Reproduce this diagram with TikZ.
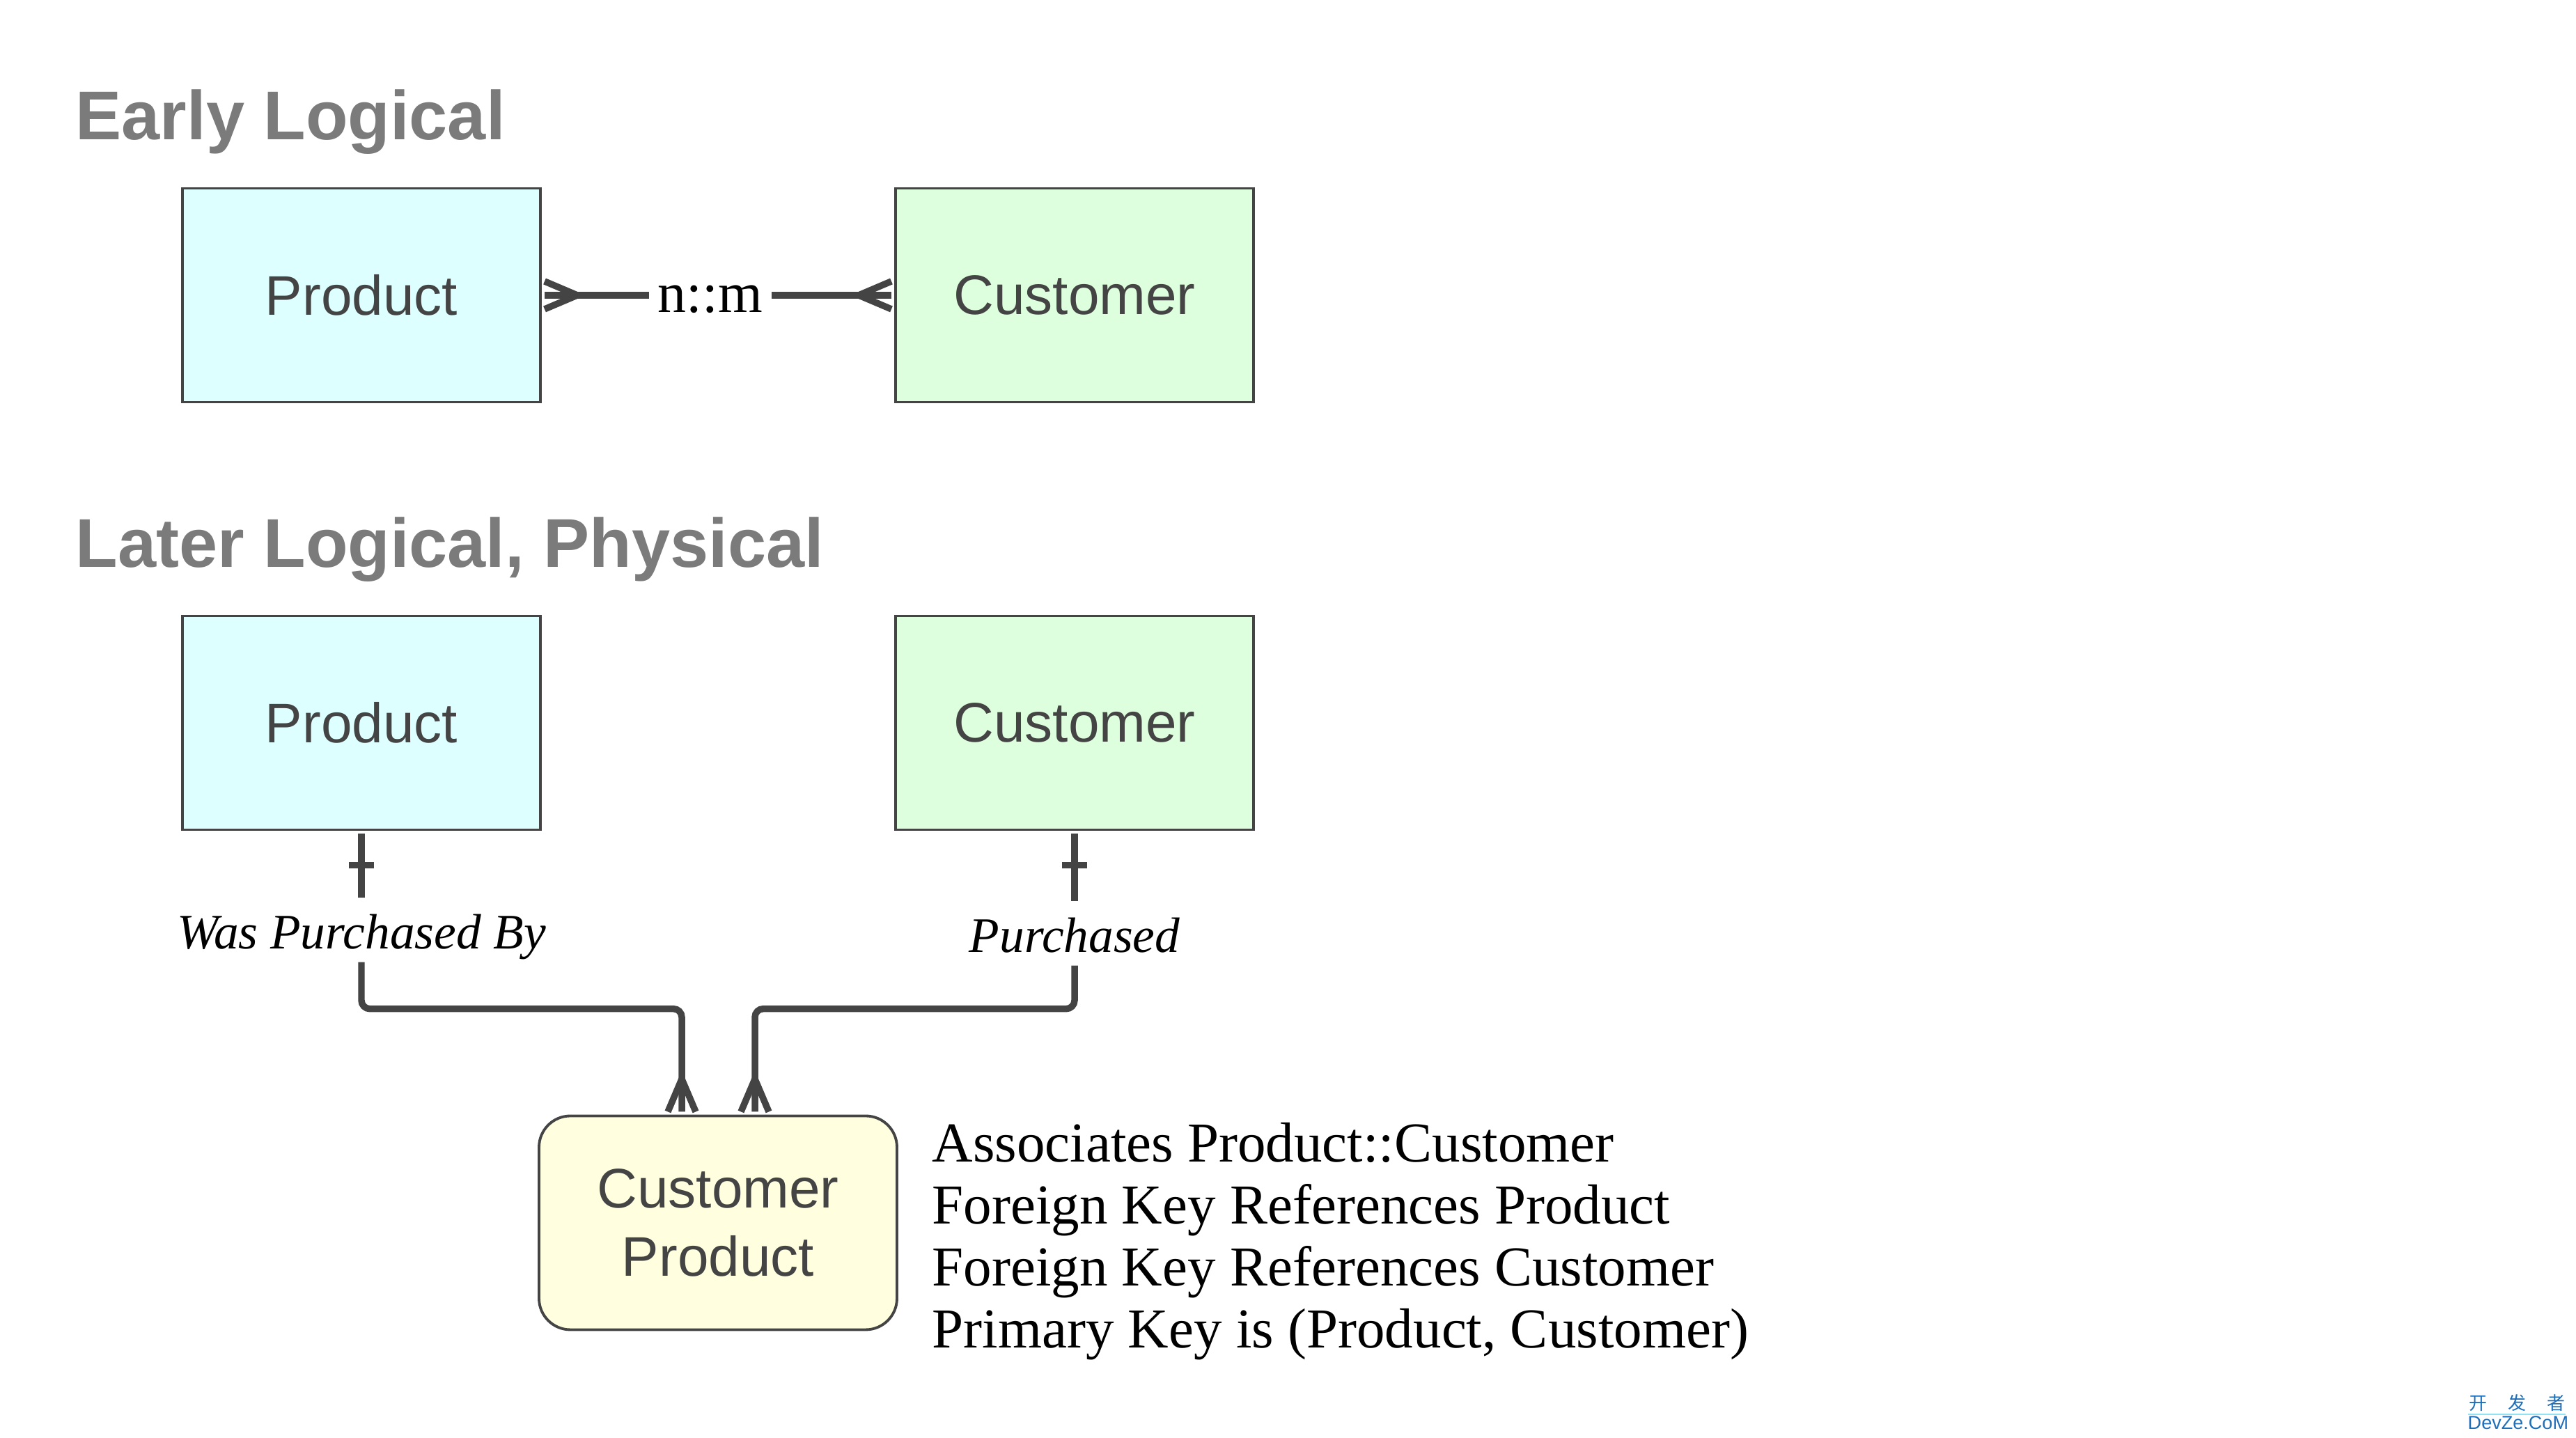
\documentclass[tikz,border=0pt]{standalone}
\usepackage{fontspec}
\setmainfont{Liberation Serif}
\setsansfont{Liberation Sans}
\newfontfamily\cjkfont{Noto Sans CJK SC}
\usepackage{xcolor}
\usepackage{tikz}
\usetikzlibrary{decorations.markings, positioning}
\definecolor{linegray}{HTML}{444444}
\definecolor{titlegray}{HTML}{7B7B7B}
\definecolor{prodfill}{HTML}{DDFFFF}
\definecolor{custfill}{HTML}{DDFFDD}
\definecolor{linkfill}{HTML}{FFFFDF}
\definecolor{wmblue}{HTML}{1E6EB8}
\definecolor{wmcyan}{HTML}{8FE3F5}
\tikzset{
    entity/.style={rectangle, draw=linegray, fill=#1, line width=1.1pt, minimum width=5.14cm, minimum height=3.07cm, outer sep=0.06cm, align=center, text=linegray, font=\sffamily\fontsize{22.8}{27.9}\selectfont},
    heading/.style={anchor=base west, inner sep=0pt, text=titlegray, font=\sffamily\bfseries\fontsize{28.2}{34}\selectfont},
    role/.style={anchor=base, inner xsep=0.05cm, inner ysep=0.1cm, text height=0.63cm, text depth=0.08cm, font=\itshape\fontsize{20.3}{24}\selectfont},
    link/.style={draw=linegray, line width=2.7pt},
    onestart/.style={postaction={decorate, decoration={markings, mark=at position 0.45cm with {\draw[link] (0,-0.18cm) -- (0,0.18cm);}}}},
    manystart/.style={postaction={decorate, decoration={markings, mark=at position 0.47cm with {\draw[link] (0,0) -- (-0.47cm,0.2cm) (0,0) -- (-0.47cm,-0.2cm);}}}},
    manyend/.style={postaction={decorate, decoration={markings, mark=at position -0.47cm with {\draw[link] (0,0) -- (0.47cm,0.2cm) (0,0) -- (0.47cm,-0.2cm);}}}}
}
\begin{document}
\begin{tikzpicture}
    \useasboundingbox (0,0) rectangle (36.99,20.65);

    % Early logical model
    \node[heading] (early) at (1.08,18.64) {Early Logical};
    \node[entity=prodfill] (prod1) at (5.19,16.41) {Product};
    \node[entity=custfill] (cust1) at (15.43,16.41) {Customer};
    \node[inner xsep=0.12cm, text height=0.50cm, text depth=0cm, font=\fontsize{23.3}{28}\selectfont] (nm) at (10.20,16.41) {n::m};
    \draw[link, manystart] (prod1) -- (nm);
    \draw[link, manyend] (nm) -- (cust1);

    % Later logical, physical model
    \node[heading] (later) at (1.08,12.50) {Later Logical, Physical};
    \node[entity=prodfill] (prod2) at (5.19,10.27) {Product};
    \node[entity=custfill] (cust2) at (15.43,10.27) {Customer};
    \node[entity=linkfill, rounded corners=0.45cm] (custprod) at (10.31,3.09) {Customer\\Product};

    % Relationship names
    \node[role] (wasby) at (5.19,7.02) {Was Purchased By};
    \node[role] (bought) at (15.43,6.97) {Purchased};

    % Connectors
    \draw[link, onestart] (prod2) -- (wasby);
    \draw[link, onestart] (cust2) -- (bought);
    \draw[link, manyend, rounded corners=0.12cm] (wasby.south) -- ++(0,-0.67) -| ([xshift=-0.52cm]custprod.north);
    \draw[link, manyend, rounded corners=0.12cm] (bought.south) -- ++(0,-0.62) -| ([xshift=0.53cm]custprod.north);

    % Notes on the associative entity
    \node[anchor=north west, align=left, inner sep=0pt, font=\fontsize{23.05}{25.32}\selectfont] (notes) at (13.38,4.53) {Associates Product::Customer\\Foreign Key References Product\\Foreign Key References Customer\\Primary Key is (Product, Customer)};

    % Watermark
    \node[inner sep=0pt, text=wmblue, font=\cjkfont\fontsize{7.4}{9}\selectfont] (wmcn) at (36.14,0.50) {开\hspace{0.30cm}发\hspace{0.30cm}者};
    \node[anchor=base west, inner sep=0pt, text=wmblue, font=\sffamily\fontsize{7.7}{9}\selectfont] (wmlat) at (35.43,0.12) {DevZe.CoM};
    \draw[wmcyan, line width=0.5pt] ([yshift=-0.03cm]wmcn.south west) -- ([yshift=-0.03cm]wmcn.south east);
\end{tikzpicture}
\end{document}
